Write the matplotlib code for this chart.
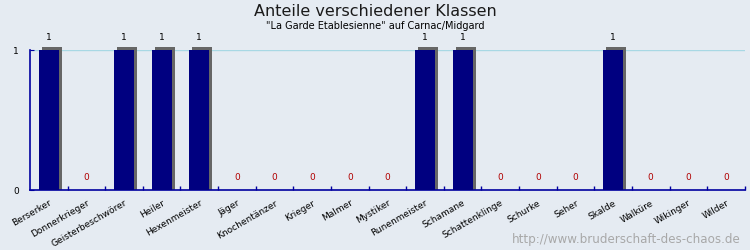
import numpy as np
import matplotlib
matplotlib.use("Agg")
import matplotlib.pyplot as plt
from matplotlib.transforms import offset_copy

klassen = ["Berserker", "Donnerkrieger", "Geisterbeschwörer", "Heiler", "Hexenmeister",
           "Jäger", "Knochentänzer", "Krieger", "Malmer", "Mystiker", "Runenmeister",
           "Schamane", "Schattenklinge", "Schurke", "Seher", "Skalde", "Walküre",
           "Wikinger", "Wilder"]
anzahl = [1, 0, 1, 1, 1, 0, 0, 0, 0, 0, 1, 1, 0, 0, 0, 1, 0, 0, 0]

bg = "#e5ebf2"
axis_col = "#0000a0"

fig = plt.figure(figsize=(7.5, 2.5), dpi=100, facecolor=bg)
ax = fig.add_axes([0.04, 0.24, 0.953, 0.56], facecolor=bg)

x = np.arange(len(klassen))
width = 0.53

# shadow bars, shifted a few pixels right and up (bottom pulled down so it meets the axis)
shadow = offset_copy(ax.transData, fig=fig, x=3, y=3, units="dots")
hv = np.array(anzahl, dtype=float)
ax.bar(x, np.where(hv > 0, hv + 0.022, 0), width, bottom=-0.022, color="#666666",
       transform=shadow, zorder=2, clip_on=False)
ax.bar(x, anzahl, width, color="#000080", zorder=3)

ax.axhline(1, color="#a8d8e4", lw=1, zorder=1)

for xi, v in zip(x, anzahl):
    if v > 0:
        ax.text(xi, v + 0.06, str(v), ha="center", va="bottom", fontsize=6.5, color="black")
    else:
        ax.text(xi, 0.06, str(v), ha="center", va="bottom", fontsize=6.5, color="#b00000")

ax.set_xlim(-0.5, len(klassen) - 0.5)
ax.set_ylim(0, 1)

ax.set_xticks(x + 0.5, minor=False)
ax.set_xticklabels([])
ax.tick_params(axis="x", direction="in", length=3, color=axis_col, width=1)
ax.set_xticks(x, minor=True)
ax.set_xticklabels(klassen, minor=True, rotation=30, ha="right", rotation_mode="anchor",
                   fontsize=6.5)
ax.tick_params(axis="x", which="minor", length=0, pad=6)

ax.set_yticks([0, 1])
ax.set_yticklabels(["0", "1"], fontsize=6.5)
ax.tick_params(axis="y", direction="in", length=3, color=axis_col, pad=8)

for s in ["top", "right"]:
    ax.spines[s].set_visible(False)
for s in ["left", "bottom"]:
    ax.spines[s].set_color(axis_col)
    ax.spines[s].set_linewidth(1.2)

fig.text(0.5, 0.955, "Anteile verschiedener Klassen", ha="center", va="center",
         fontsize=11.5, color="#1a1a1a")
fig.text(0.5, 0.895, "\"La Garde Etablesienne\" auf Carnac/Midgard", ha="center",
         va="center", fontsize=7, color="black")
fig.text(0.988, 0.04, "http://www.bruderschaft-des-chaos.de", ha="right", va="center",
         fontsize=8.6, color="#a8a8a8")

fig.savefig("out.png", dpi=100, facecolor=bg)
